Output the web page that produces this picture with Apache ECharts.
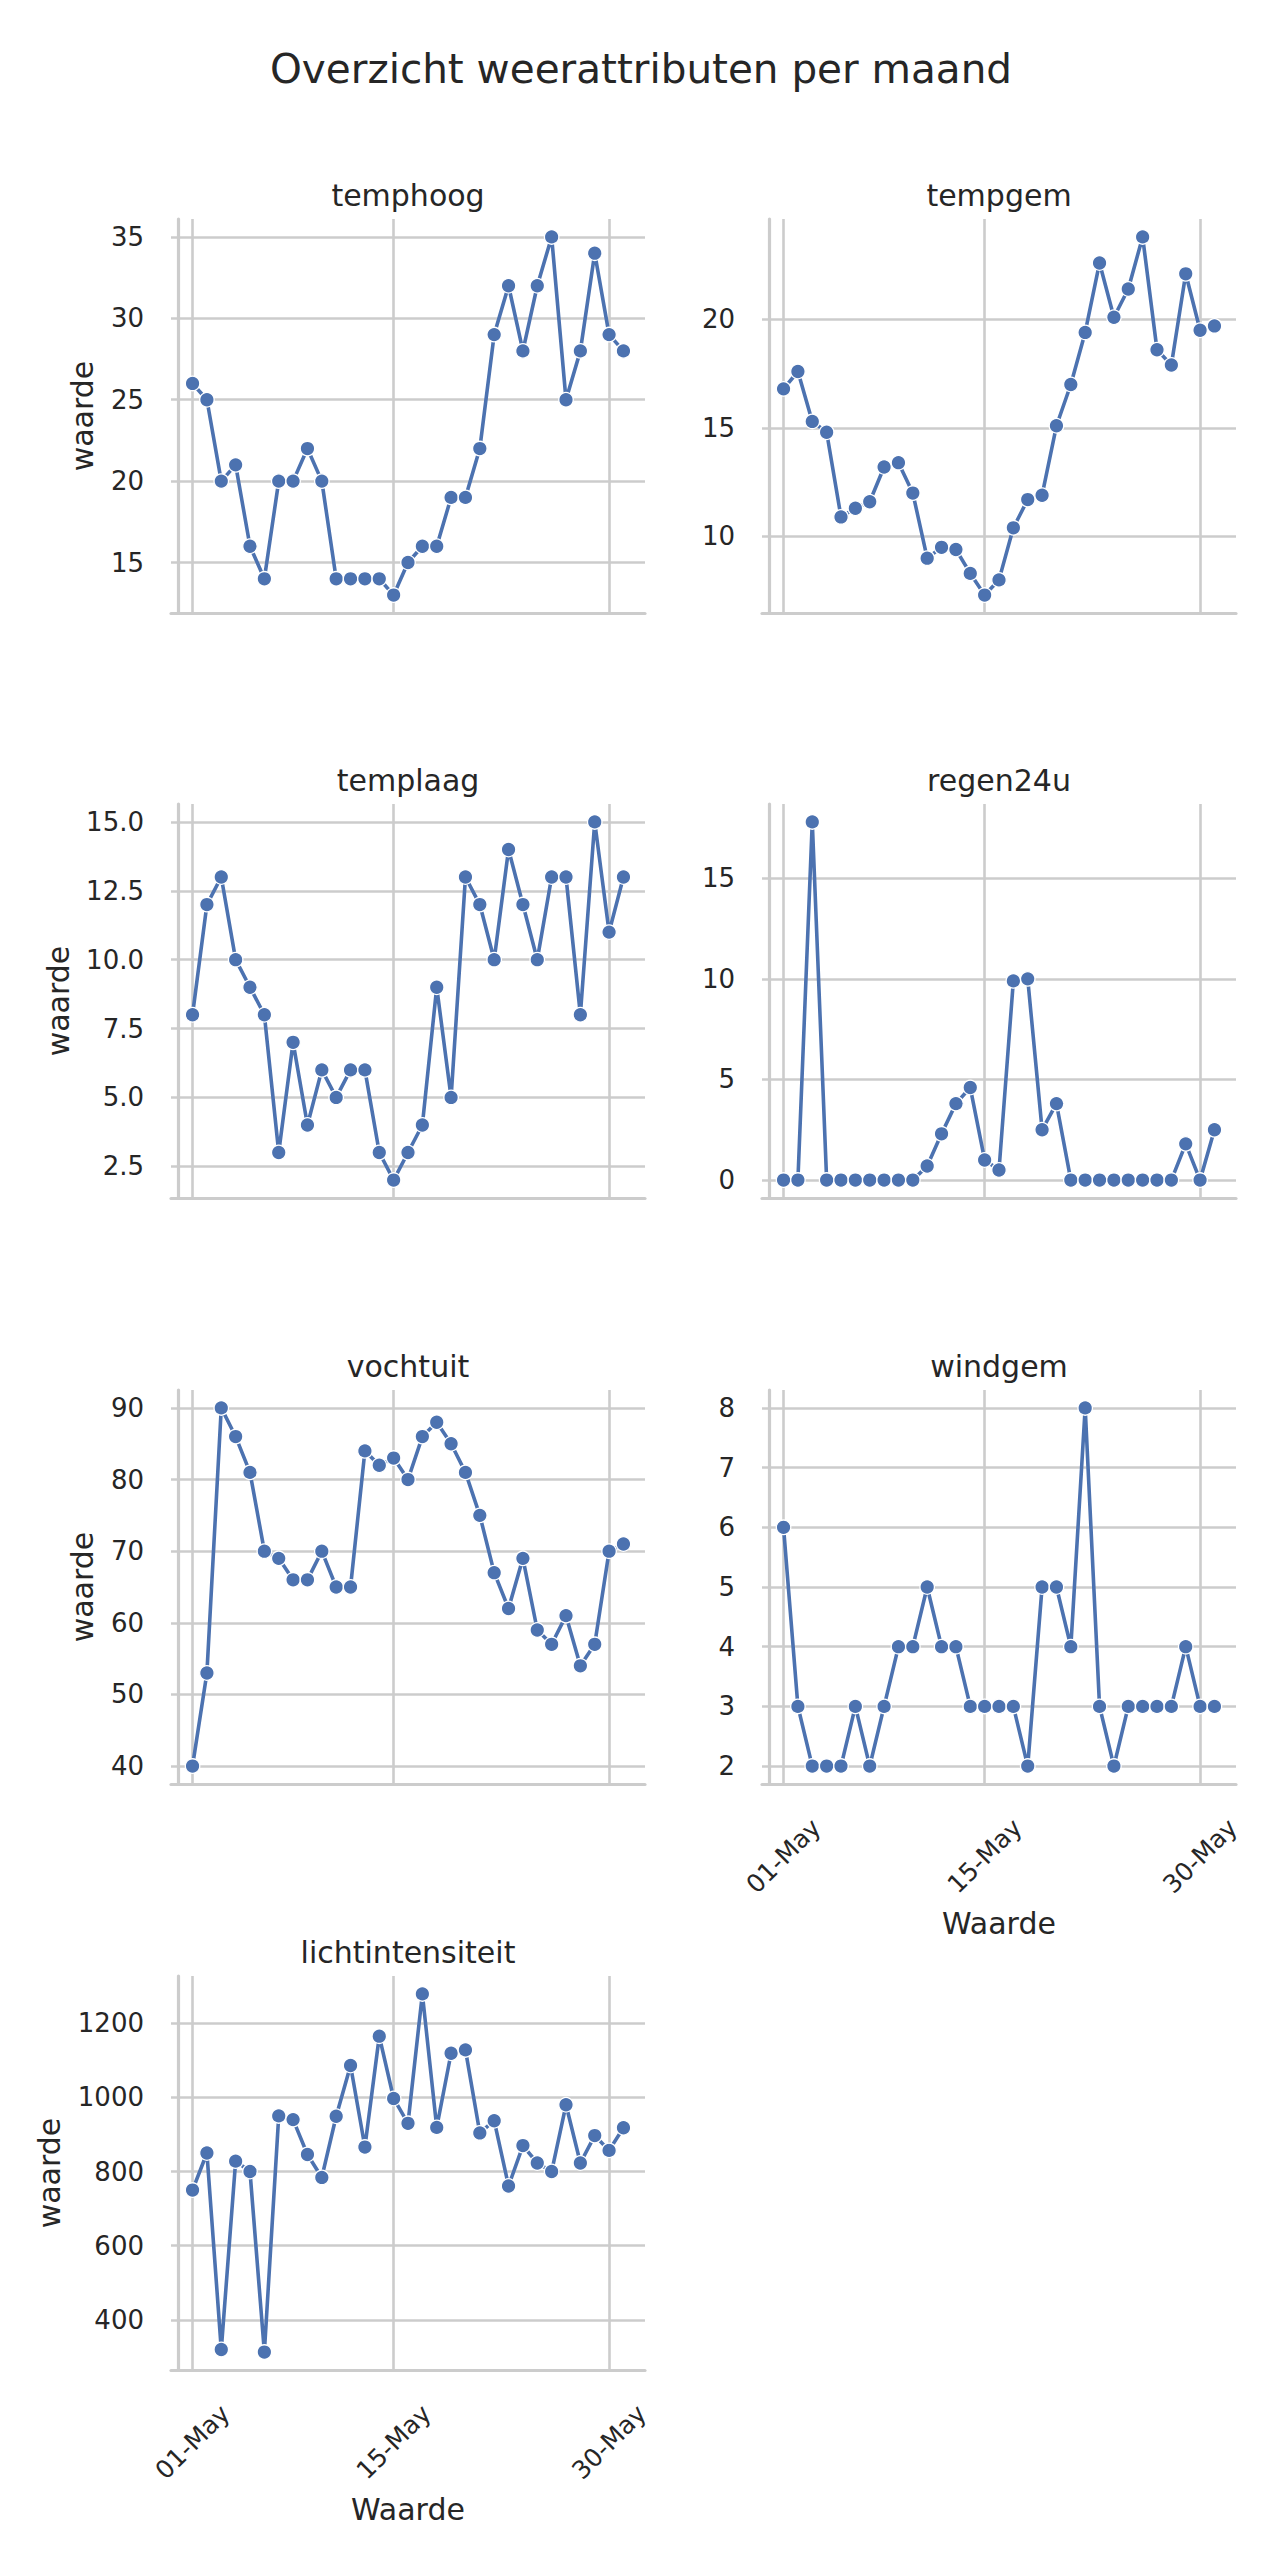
<!DOCTYPE html>
<html>
<head>
<meta charset="utf-8">
<title>Overzicht weerattributen per maand</title>
<script src="https://cdn.jsdelivr.net/npm/echarts@6/dist/echarts.min.js"></script>
<style>
  html, body { margin: 0; padding: 0; background: #ffffff; }
  #chart { width: 1280px; height: 2560px; }
</style>
</head>
<body>
<div id="chart"></div>
<script>
// dag van de maand (mei)
const dagen = [1, 2, 3, 4, 5, 6, 7, 8, 9, 10, 11, 12, 13, 14, 15, 16,
  17, 18, 19, 20, 21, 22, 23, 24, 25, 26, 27, 28, 29, 30, 31];

const temphoog = [26, 25, 20, 21, 16, 14, 20, 20, 22, 20, 14, 14, 14, 14, 13, 15,
  16, 16, 19, 19, 22, 29, 32, 28, 32, 35, 25, 28, 34, 29, 28];
const tempgem = [16.8, 17.6, 15.3, 14.8, 10.9, 11.3, 11.6, 13.2, 13.4, 12.0, 9.0, 9.5,
  9.4, 8.3, 7.3, 8.0, 10.4, 11.7, 11.9, 15.1, 17.0, 19.4, 22.6, 20.1, 21.4, 23.8,
  18.6, 17.9, 22.1, 19.5, 19.7];
const templaag = [8, 12, 13, 10, 9, 8, 3, 7, 4, 6, 5, 6, 6, 3, 2, 3,
  4, 9, 5, 13, 12, 10, 14, 12, 10, 13, 13, 8, 15, 11, 13];
const regen24u = [0, 0, 17.8, 0, 0, 0, 0, 0, 0, 0, 0.7, 2.3, 3.8, 4.6, 1.0, 0.5,
  9.9, 10.0, 2.5, 3.8, 0, 0, 0, 0, 0, 0, 0, 0, 1.8, 0, 2.5];
const vochtuit = [40, 53, 90, 86, 81, 70, 69, 66, 66, 70, 65, 65, 84, 82, 83, 80,
  86, 88, 85, 81, 75, 67, 62, 69, 59, 57, 61, 54, 57, 70, 71];
const windgem = [6, 3, 2, 2, 2, 3, 2, 3, 4, 4, 5, 4, 4, 3, 3, 3,
  3, 2, 5, 5, 4, 8, 3, 2, 3, 3, 3, 3, 4, 3, 3];
const lichtintensiteit = [750, 850, 320, 828, 800, 313, 950, 940, 846, 784, 949, 1086,
  866, 1165, 997, 930, 1279, 919, 1119, 1128, 904, 937, 761, 870, 823, 800,
  980, 823, 897, 857, 918];

// x-as ticks
const xTickDagen = [1, 15, 30];
const xTickLabels = ['01-May', '15-May', '30-May'];

// y-as ticks per paneel
const ticksTemphoog = [15, 20, 25, 30, 35];
const ticksTempgem = [10, 15, 20];
const ticksTemplaag = [2.5, 5.0, 7.5, 10.0, 12.5, 15.0];
const ticksRegen = [0, 5, 10, 15];
const ticksVocht = [40, 50, 60, 70, 80, 90];
const ticksWind = [2, 3, 4, 5, 6, 7, 8];
const ticksLicht = [400, 600, 800, 1000, 1200];

const panels = [
  { name: 'temphoog', values: temphoog, ticks: ticksTemphoog, decimals: 0 },
  { name: 'tempgem', values: tempgem, ticks: ticksTempgem, decimals: 0 },
  { name: 'templaag', values: templaag, ticks: ticksTemplaag, decimals: 1 },
  { name: 'regen24u', values: regen24u, ticks: ticksRegen, decimals: 0 },
  { name: 'vochtuit', values: vochtuit, ticks: ticksVocht, decimals: 0 },
  { name: 'windgem', values: windgem, ticks: ticksWind, decimals: 0 },
  { name: 'lichtintensiteit', values: lichtintensiteit, ticks: ticksLicht, decimals: 0 },
];

const font = 'DejaVu Sans';
const textColor = '#262626';
const gridColor = '#cccccc';
const blue = '#4c72b0';
const tickFont = 26;
const tickMargin = 27;

const colLeft = [171, 762];
const rowTop = [219, 804, 1390, 1976];
const panelW = 474;
const panelH = 394;

// matplotlib-achtige marge van 5%
function padded(values) {
  const lo = Math.min(...values);
  const hi = Math.max(...values);
  const m = (hi - lo) * 0.05;
  return [lo - m, hi + m];
}

// breedte van de tick labels, zodat 'waarde' net als bij matplotlib opschuift
const ctx = document.createElement('canvas').getContext('2d');
ctx.font = tickFont + 'px "' + font + '"';
function labelWidth(ticks, decimals) {
  return Math.max(...ticks.map(t => ctx.measureText(t.toFixed(decimals)).width));
}

const grid = [];
const xAxis = [];
const yAxis = [];
const series = [];
const graphic = [{
  type: 'text',
  x: 641, y: 69,
  style: {
    text: 'Overzicht weerattributen per maand',
    font: '40.5px "' + font + '"',
    fill: textColor,
    textAlign: 'center',
    textVerticalAlign: 'middle',
  },
}];

const xMin = dagen[0] - 1.5;
const xMax = dagen[dagen.length - 1] + 1.5;

panels.forEach((p, i) => {
  const col = i % 2;
  const row = Math.floor(i / 2);
  const left = colLeft[col];
  const top = rowTop[row];
  const showX = i >= panels.length - 2;
  const range = padded(p.values);

  grid.push({ left, top, width: panelW, height: panelH, containLabel: false });

  xAxis.push({
    gridIndex: i,
    type: 'value',
    min: xMin,
    max: xMax,
    name: showX ? 'Waarde' : '',
    nameLocation: 'middle',
    nameGap: 124,
    nameTextStyle: { fontFamily: font, fontSize: 30, color: textColor },
    axisLine: { show: true, onZero: false, lineStyle: { color: gridColor, width: 3.2 } },
    axisTick: { show: false, customValues: xTickDagen },
    axisLabel: {
      show: showX,
      customValues: xTickDagen,
      formatter: (v) => xTickLabels[xTickDagen.indexOf(v)],
      rotate: 45,
      align: 'center',
      verticalAlign: 'middle',
      margin: 72,
      fontFamily: font,
      fontSize: 25,
      color: textColor,
    },
    splitLine: { show: true, lineStyle: { color: gridColor, width: 2.6 } },
  });

  yAxis.push({
    gridIndex: i,
    type: 'value',
    min: range[0],
    max: range[1],
    name: col === 0 ? 'waarde' : '',
    nameLocation: 'middle',
    nameRotate: 90,
    nameGap: tickMargin + labelWidth(p.ticks, p.decimals) + 13,
    nameTextStyle: { fontFamily: font, fontSize: 30, color: textColor },
    axisLine: { show: true, lineStyle: { color: gridColor, width: 3.2 } },
    axisTick: { show: false, customValues: p.ticks },
    axisLabel: {
      customValues: p.ticks,
      formatter: (v) => v.toFixed(p.decimals),
      margin: tickMargin,
      fontFamily: font,
      fontSize: tickFont,
      color: textColor,
    },
    splitLine: { show: true, lineStyle: { color: gridColor, width: 2.6 } },
  });

  series.push({
    type: 'line',
    name: p.name,
    xAxisIndex: i,
    yAxisIndex: i,
    data: dagen.map((d, k) => [d, p.values[k]]),
    symbol: 'circle',
    symbolSize: 14.5,
    showSymbol: true,
    animation: false,
    lineStyle: { color: blue, width: 3.6 },
    itemStyle: { color: blue, borderColor: '#ffffff', borderWidth: 1.3 },
    z: 3,
  });

  graphic.push({
    type: 'text',
    x: left + panelW / 2,
    y: top - 24,
    style: {
      text: p.name,
      font: '30px "' + font + '"',
      fill: textColor,
      textAlign: 'center',
      textVerticalAlign: 'middle',
    },
  });
});

const chart = echarts.init(document.getElementById('chart'), null, { renderer: 'svg' });
chart.setOption({
  backgroundColor: '#ffffff',
  animation: false,
  grid,
  xAxis,
  yAxis,
  series,
  graphic,
});
</script>
</body>
</html>
